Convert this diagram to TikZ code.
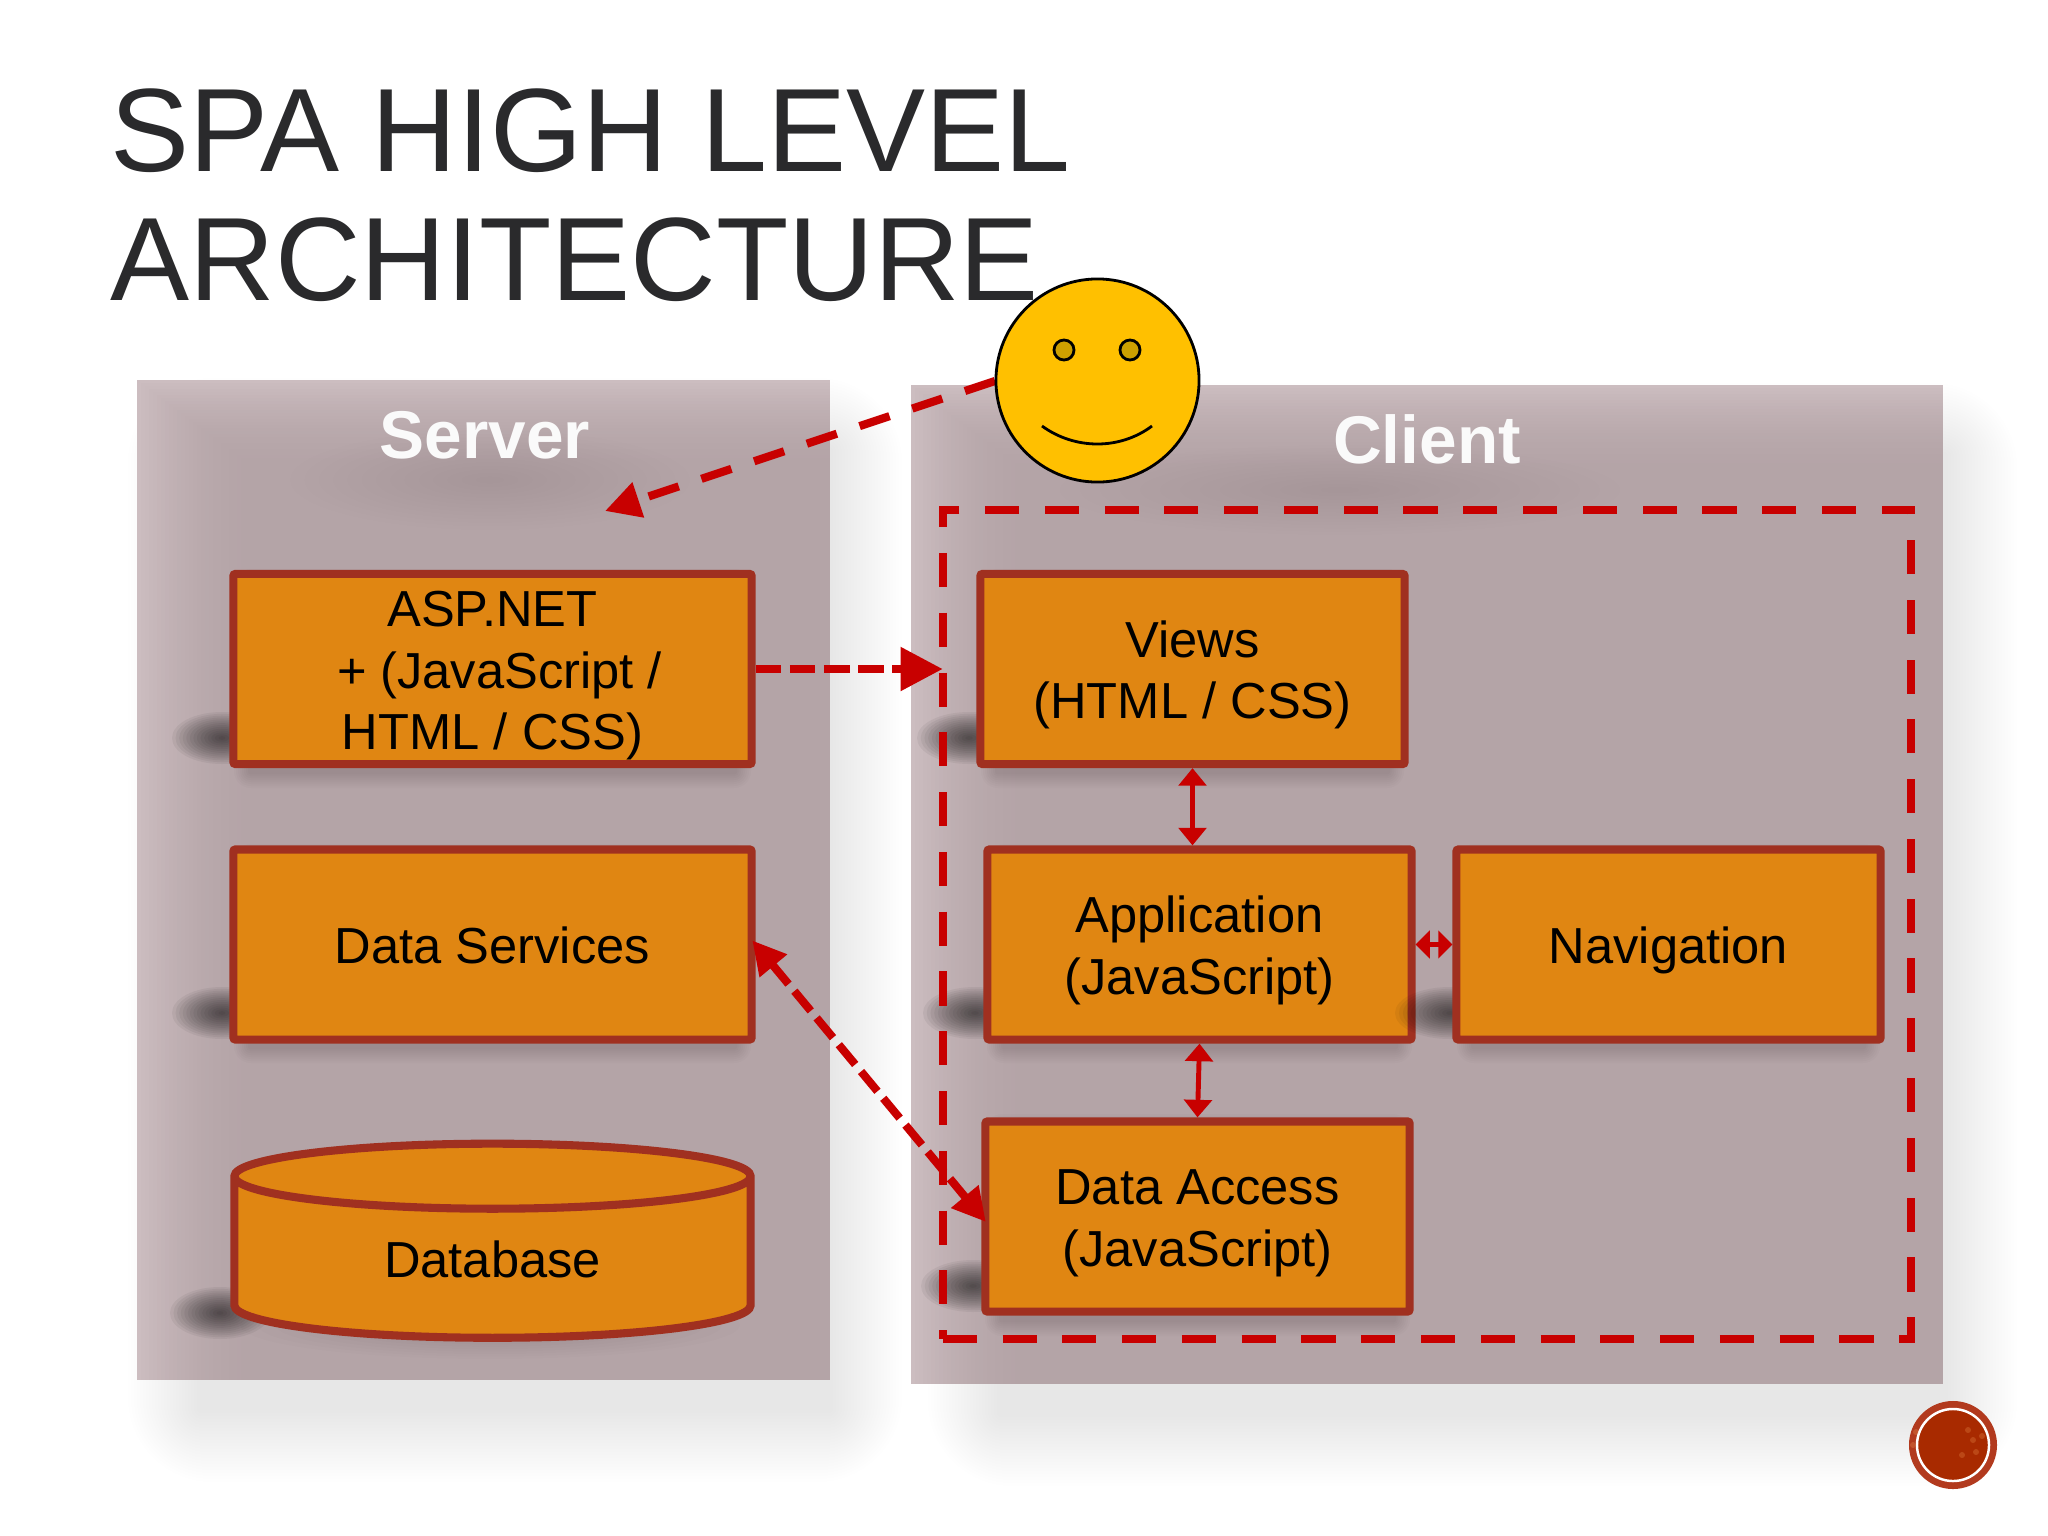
\documentclass[tikz,border=0pt]{standalone}
\usepackage{xcolor}
\usepackage{fontspec}
\setmainfont{Liberation Sans}
\usepackage{tikz}
\usetikzlibrary{shapes.geometric, arrows.meta, calc}

\definecolor{panellight}{HTML}{CCBDC0}
\definecolor{paneldark}{HTML}{B4A4A7}
\definecolor{boxfill}{HTML}{E08612}
\definecolor{boxline}{HTML}{A03020}
\definecolor{linkred}{HTML}{C80000}
\definecolor{titlegray}{HTML}{2A2A2C}
\definecolor{smileyfill}{HTML}{FFC000}
\definecolor{eyefill}{HTML}{CDA000}
\definecolor{badgeouter}{HTML}{B23A1E}
\definecolor{badgeinner}{HTML}{A82A00}

\tikzset{
    boxnode/.style={draw=boxline, fill=boxfill, line width=2.3pt, rounded corners=0.6pt, align=center, inner sep=0pt,
        font=\fontsize{14.4}{17.5}\selectfont,
        execute at begin node={\rule{0pt}{14.3pt}}, execute at end node={\rule[-3.3pt]{0pt}{0pt}}},
    serverbox/.style={boxnode, minimum width=5.18cm, minimum height=1.9cm},
    clientbox/.style={boxnode, minimum width=4.24cm, minimum height=1.9cm},
    panellabel/.style={text=white!94!paneldark, font=\fontsize{19.2}{23}\selectfont\bfseries},
    dashlink/.style={draw=linkred, line width=2.3pt},
    thinlink/.style={draw=linkred, line width=1.4pt, {Triangle[length=5pt,width=7.8pt]}-{Triangle[length=5pt,width=7.8pt]}},
    eye/.style={circle, draw=black, fill=eyefill, line width=0.8pt, minimum size=0.2cm, inner sep=0pt}
}

% Pushes the lines of a box down a little
\newcommand{\dropline}{\rule{0pt}{14.1pt}}

% Soft drop shadow of a panel
\newcommand{\softshadow}[4]{
    \foreach \i in {1,...,24} {
        \fill[black, opacity=0.005, rounded corners=\i*1pt] (#1-3*\i,#2-3*\i) rectangle (#3+3*\i,#4+3*\i);
    }
}
% Small shadow under a box
\newcommand{\boxshadow}[4]{
    \foreach \i in {1,...,8} {
        \fill[black, opacity=0.014, rounded corners=\i*0.6pt] (#1-2*\i,#2-2*\i) rectangle (#3+2*\i,#4+2*\i);
    }
}
% Panel, lighter on its left and top edges
\newcommand{\panel}[4]{
    \foreach \i in {0,...,30} {
        \pgfmathtruncatemacro{\pct}{100*(1-\i/30)*(1-\i/30)}
        \fill[panellight!\pct!paneldark] (#1+4*\i,#2+3*\i) rectangle (#3,#4);
    }
}
% Dark smudge behind a box
\newcommand{\smudge}[5]{
    \foreach \i in {1,...,14} {
        \fill[black, opacity=#5] (#1,#2) ellipse [x radius=#3*\i/14, y radius=#4*\i/14];
    }
}

\begin{document}
\begin{tikzpicture}[x=0.01cm, y=-0.01cm]
    \useasboundingbox (0,0) rectangle (2048,1536);
    \fill[white] (0,0) rectangle (2048,1536);

    % Title
    \node[anchor=north west, align=left, inner sep=0pt, text=titlegray, font=\fontsize{33.7}{36.7}\selectfont] (title) at (110,88) {SPA HIGH LEVEL\\ARCHITECTURE};

    % Panels
    \softshadow{200}{450}{830}{1410}
    \softshadow{1000}{455}{1945}{1414}
    \panel{137}{380}{830}{1380}
    \panel{911}{385}{1943}{1384}

    % Smudges
    \smudge{490}{480}{200}{50}{0.005}
    \smudge{1340}{490}{280}{45}{0.005}
    \smudge{222}{738}{50}{26}{0.05}
    \smudge{222}{1013}{50}{26}{0.05}
    \smudge{220}{1313}{50}{26}{0.05}
    \smudge{969}{738}{52}{26}{0.05}
    \smudge{975}{1013}{52}{26}{0.05}
    \smudge{973}{1286}{52}{26}{0.05}
    \smudge{490}{1325}{250}{34}{0.008}
    \boxshadow{250}{585}{735}{772}
    \boxshadow{250}{860}{735}{1047}
    \boxshadow{997}{585}{1388}{772}
    \boxshadow{1003}{860}{1396}{1047}
    \boxshadow{1473}{860}{1864}{1047}
    \boxshadow{1001}{1130}{1394}{1320}

    % Labels
    \node[panellabel] (serverlabel) at (485,435) {Server};
    \node[panellabel] (clientlabel) at (1427,439) {Client};

    % Client zone
    \node[draw=linkred, line width=2.3pt, dash pattern=on 9.7pt off 7.3pt, minimum width=9.68cm, minimum height=8.29cm, inner sep=0pt, outer sep=0pt] (zone) at (1427,924.5) {};

    % Server boxes
    \node[serverbox] (asp) at (492.5,669) {\dropline ASP.NET\\\hspace{4pt}+ (JavaScript /\\HTML / CSS)};
    \node[serverbox] (services) at (492.5,944.5) {Data Services};
    \node[cylinder, shape border rotate=90, aspect=0.3, draw=boxline, fill=boxfill, line width=2.3pt, inner sep=0pt, minimum width=5.16cm, minimum height=1.94cm, font=\fontsize{14.4}{17.5}\selectfont] (database) at (492.5,1259) {Database};

    % Client boxes
    \node[clientbox] (views) at (1192.5,669) {\dropline Views\\(HTML / CSS)};
    \node[clientbox] (app) at (1199.5,944.5) {\dropline Application\\(JavaScript)};
    \smudge{1450}{1013}{55}{26}{0.05}
    \node[clientbox] (nav) at (1668.5,944.5) {Navigation};
    \node[clientbox] (access) at (1197.5,1216.5) {\dropline Data Access\\(JavaScript)};

    % Links
    \draw[thinlink] (views.south) -- (views.south |- app.north);
    \draw[thinlink] (app.south) -- (access.north);
    \draw[draw=linkred, line width=1.4pt, {Triangle[length=4pt,width=7.8pt]}-{Triangle[length=4pt,width=7.8pt]}] (app.east) -- (nav.west);
    \draw[dashlink, dash pattern=on 7.3pt off 2.6pt, shorten <=-1.5pt, shorten >=-2pt, {Triangle[length=9.4pt,width=9.6pt]}-{Triangle[length=9.4pt,width=9.6pt]}] (services.east) -- (access.west);
    \draw[dashlink, dash pattern=on 7.3pt off 2.4pt, -{Triangle[length=12pt,width=12pt]}] (asp.east) -- (asp.east -| zone.west);

    % Smiley
    \coordinate (servertip) at (605,511);
    \draw[dashlink, dash pattern=on 9pt off 6.8pt, -{Triangle[length=10pt,width=10pt]}] (995,381) -- (servertip);
    \node[circle, draw=black, fill=smileyfill, line width=0.8pt, minimum size=2.03cm, inner sep=0pt] (smiley) at (1097.5,380.5) {};
    \node[eye] (lefteye) at (1064,350) {};
    \node[eye] (righteye) at (1130,350) {};
    \coordinate (mouthl) at (1042,426);
    \coordinate (mouthr) at (1152,426);
    \draw[line width=0.8pt, black] (mouthl) .. controls (1075,450) and (1120,450) .. (mouthr);

    % Page badge
    \node[circle, fill=badgeouter, minimum size=0.88cm, inner sep=0pt] (badge) at (1953,1445) {};
    \node[circle, draw=white, fill=badgeinner, line width=0.7pt, minimum size=0.72cm, inner sep=0pt] (badgein) at (badge) {};
    \foreach \x/\y in {1973/1440, 1976/1452, 1968/1430, 1962/1455, 1982/1436, 1913/1445, 1916/1432} {
        \fill[orange!60!white, opacity=0.22] (\x,\y) circle (3);
    }
\end{tikzpicture}
\end{document}
